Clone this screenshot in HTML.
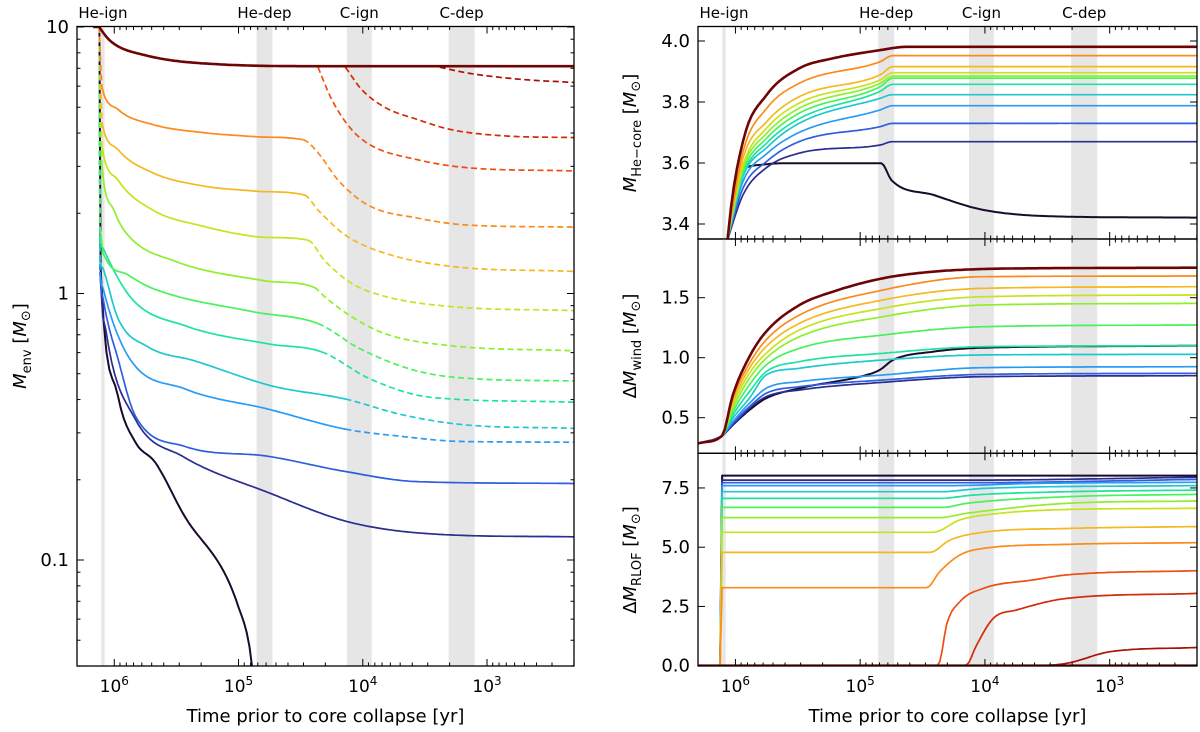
<!DOCTYPE html>
<html><head><meta charset="utf-8"><style>
html,body{margin:0;padding:0;background:#fff;}
svg{display:block;font-family:"DejaVu Sans","Liberation Sans",sans-serif;}
</style></head><body>
<svg id="fig" width="1200" height="732" viewBox="0 0 1200 732" xmlns="http://www.w3.org/2000/svg"></svg>
<script>
// ---------- data (log10 time before collapse in yr, values) ----------
const lineColors = ["#1a0a2e","#2b2d8f","#2f5fe0","#2a9bf5","#1ec8d0","#1de3a0","#48f25a","#8ef02a","#c8e21f","#f5b820","#fb8a1a","#f04e10","#d52a08","#aa1004","#6e0505"];
const phaseNames = ["He-ign","He-dep","C-ign","C-dep"];
const phaseStart = [6.105,4.855,4.128,3.309];
const phaseEnd   = [6.078,4.727,3.928,3.100];
const xTickExps = [6,5,4,3];

// Left panel: log10 M_env
const envT = [
 [6.12,6.11,5.97,5.83,5.67,5.45,5.0,4.89,4.875],
 [6.12,6.115,6.07,5.83,5.45,4.76,4.09,3.29,2.3],
 [6.12,6.115,6.09,5.97,5.83,5.43,4.76,4.14,3.56,2.3],
 [6.12,6.115,6.09,5.89,5.43,4.76,4.14,3.69,3.22,2.3],
 [6.12,6.115,6.09,5.97,5.73,5.35,4.73,4.14,3.70,3.22,2.3],
 [6.12,6.115,6.09,5.86,5.43,4.76,4.33,3.94,3.46,2.3],
 [6.12,6.115,6.07,5.89,5.69,4.89,4.36,4.02,3.56,3.06,2.3],
 [6.12,6.10,6.0,5.89,5.51,4.81,4.39,4.31,4.09,3.82,3.29,2.3],
 [6.12,6.10,5.97,5.69,5.29,4.89,4.44,4.31,4.09,3.82,3.29,2.3],
 [6.12,6.10,5.97,5.69,5.29,4.89,4.47,4.36,4.14,3.82,3.29,2.3],
 [6.12,6.10,5.97,5.69,5.29,4.89,4.48,4.36,4.20,3.96,3.56,3.16,2.3],
 [4.36,4.25,4.09,3.93,3.56,3.16,2.3],
 [4.14,4.01,3.82,3.56,3.29,2.88,2.3],
 [3.38,3.14,2.74,2.3],
 [6.17,6.12,6.11,6.02,5.75,5.16,4.36,2.3]
];
const envLogM = [
 [1.0,0.094,-0.385,-0.558,-0.634,-0.823,-1.177,-1.404,-1.5],
 [1.0,0.08,-0.132,-0.472,-0.611,-0.747,-0.860,-0.906,-0.913],
 [1.0,0.08,-0.019,-0.245,-0.460,-0.574,-0.611,-0.668,-0.706,-0.713],
 [1.0,0.08,0.019,-0.234,-0.358,-0.434,-0.509,-0.536,-0.555,-0.558],
 [1.0,0.12,0.094,-0.094,-0.2,-0.253,-0.347,-0.396,-0.453,-0.491,-0.506],
 [1.0,0.2,0.17,-0.019,-0.121,-0.189,-0.219,-0.321,-0.389,-0.408],
 [1.0,0.25,0.132,0.07,0.019,-0.068,-0.113,-0.208,-0.291,-0.321,-0.328],
 [1.0,0.479,0.31,0.219,0.121,0.049,0.023,-0.011,-0.087,-0.151,-0.196,-0.215],
 [1.0,0.555,0.426,0.313,0.253,0.215,0.2,0.125,0.038,-0.011,-0.049,-0.064],
 [1.0,0.642,0.540,0.453,0.404,0.385,0.370,0.313,0.219,0.151,0.102,0.083],
 [1.0,0.774,0.691,0.634,0.604,0.589,0.577,0.528,0.426,0.332,0.283,0.257,0.249],
 [0.849,0.728,0.615,0.555,0.502,0.472,0.460],
 [0.849,0.766,0.698,0.653,0.615,0.592,0.585],
 [0.849,0.826,0.804,0.792],
 [1.0,1.0,0.992,0.943,0.894,0.860,0.853,0.853]
];
// solid segment index ranges [from,to]; other segments dashed
const envSolid = [[0,8],[1,8],[1,9],[1,6],[1,7],[1,6],[1,6],[1,6],[1,6],[1,6],[1,6],[0,0],[0,0],[0,0],[0,7]];

// He core mass
const coreTcol = [6.07,5.94,5.75,5.49,4.84,4.74,2.3];
const coreT = [
 [6.075,6.06,5.97,5.75,5.59,4.83,4.75,4.41,4.01,3.34,2.3],
 coreTcol,coreTcol,coreTcol,coreTcol,coreTcol,coreTcol,coreTcol,coreTcol,coreTcol,coreTcol,
 [6.07,6.06,5.94,5.75,5.49,5.22,4.84,4.63,2.3],
 [6.07,6.06,5.94,5.75,5.49,5.22,4.84,4.63,2.3],
 [6.07,6.06,5.94,5.75,5.49,5.22,4.84,4.63,2.3],
 [6.07,6.06,5.94,5.75,5.49,5.22,4.84,4.63,2.3]
];
const coreM = [
 [3.30,3.364,3.571,3.596,3.599,3.599,3.544,3.495,3.446,3.424,3.421],
 [3.34,3.495,3.585,3.632,3.659,3.670,3.670],
 [3.34,3.517,3.605,3.670,3.719,3.730,3.730],
 [3.34,3.539,3.630,3.700,3.774,3.788,3.788],
 [3.34,3.555,3.650,3.730,3.812,3.824,3.824],
 [3.34,3.561,3.665,3.745,3.835,3.858,3.858],
 [3.34,3.571,3.681,3.763,3.850,3.878,3.878],
 [3.34,3.583,3.697,3.779,3.861,3.885,3.885],
 [3.34,3.593,3.714,3.796,3.872,3.896,3.896],
 [3.34,3.615,3.735,3.817,3.889,3.916,3.916],
 [3.34,3.637,3.779,3.861,3.932,3.952,3.952],
 [3.30,3.36,3.670,3.823,3.910,3.943,3.970,3.981,3.981],
 [3.30,3.36,3.670,3.823,3.910,3.943,3.970,3.981,3.981],
 [3.30,3.36,3.670,3.823,3.910,3.943,3.970,3.981,3.981],
 [3.30,3.36,3.670,3.823,3.910,3.943,3.970,3.981,3.981]
];

// wind mass loss
const windTcol = [6.3,6.107,6.021,5.888,5.754,5.486,4.817,4.014,2.3];
const windTred = [6.3,6.107,6.021,5.888,5.754,5.486,5.219,4.817,4.416,4.014,3.612,2.3];
const windT = [
 [6.3,6.107,6.021,5.888,5.754,5.486,4.95,4.843,4.737,4.416,4.014,2.3],
 windTcol,windTcol,windTcol,windTcol,windTcol,windTcol,windTcol,windTcol,windTcol,windTcol,
 windTred,windTred,windTred,windTred
];
const windRed = [0.285,0.35,0.689,1.008,1.217,1.439,1.55,1.662,1.717,1.739,1.745,1.75];
const windM = [
 [0.285,0.35,0.439,0.564,0.662,0.745,0.856,0.898,0.981,1.05,1.083,1.1],
 [0.285,0.35,0.439,0.578,0.675,0.731,0.795,0.842,0.85],
 [0.285,0.35,0.453,0.592,0.703,0.758,0.814,0.861,0.87],
 [0.285,0.35,0.467,0.62,0.745,0.8,0.856,0.917,0.925],
 [0.285,0.35,0.495,0.662,0.856,0.912,0.981,1.023,1.028],
 [0.285,0.35,0.522,0.717,0.883,0.967,1.037,1.092,1.1],
 [0.285,0.35,0.55,0.773,0.939,1.078,1.189,1.258,1.273],
 [0.285,0.35,0.578,0.828,0.995,1.175,1.342,1.439,1.453],
 [0.285,0.35,0.606,0.870,1.037,1.231,1.412,1.508,1.523],
 [0.285,0.35,0.633,0.912,1.092,1.287,1.481,1.578,1.592],
 [0.285,0.35,0.662,0.953,1.148,1.356,1.564,1.675,1.681],
 windRed,windRed,windRed,windRed
];

// RLOF mass transfer
const rlofT = [
 [6.123,6.107,2.3],
 [6.123,6.107,4.148,2.3],
 [6.123,6.107,4.148,2.3],
 [6.123,6.107,4.281,3.612,2.3],
 [6.123,6.107,4.362,4.014,2.3],
 [6.123,6.107,4.362,4.094,3.345,2.3],
 [6.123,6.107,4.335,4.148,3.345,2.3],
 [6.123,6.107,4.362,4.148,3.345,2.3],
 [6.123,6.107,4.415,4.201,3.88,3.345,2.3],
 [6.123,6.107,4.442,4.281,4.014,3.345,2.3],
 [6.123,6.107,4.468,4.362,4.201,4.014,3.345,2.3],
 [6.3,4.402,4.362,4.308,4.201,4.014,3.612,3.345,2.3],
 [6.3,4.201,4.148,4.067,3.933,3.746,3.345,2.3],
 [6.3,3.612,3.345,2.997,2.3],
 [6.3,2.3]
];
const rlofM = [
 [0,8.02,8.02],
 [0,7.83,7.83,7.95],
 [0,7.72,7.72,7.86],
 [0,7.60,7.60,7.69,7.74],
 [0,7.34,7.34,7.48,7.60],
 [0,7.06,7.06,7.20,7.34,7.41],
 [0,6.68,6.68,6.85,7.13,7.23],
 [0,6.25,6.25,6.43,6.85,6.95],
 [0,5.63,5.63,6.15,6.43,6.59,6.64],
 [0,4.78,4.78,5.30,5.63,5.79,5.87],
 [0,3.29,3.29,3.97,4.67,4.95,5.12,5.19],
 [0,0,0.17,1.72,2.70,3.26,3.62,3.83,4.01],
 [0,0,0.03,0.87,2.0,2.35,2.84,3.05],
 [0,0,0.1,0.59,0.77],
 [0,0]
];

const coreTicks = [3.4,3.6,3.8,4.0];
const windTicks = [0.5,1.0,1.5];
const rlofTicks = [0.0,2.5,5.0,7.5];
const envTickVals = [10,1,0.1];
const envTickLabels = ["10","1","0.1"];

// ---------- drawing ----------
const NS="http://www.w3.org/2000/svg";
const svg=document.getElementById('fig');
function el(tag,attrs,parent){const e=document.createElementNS(NS,tag);for(const k in attrs)e.setAttribute(k,attrs[k]);(parent||svg).appendChild(e);return e;}

const T0=6.3, T1=2.3;
const panels = {
 env:{x0:77,x1:574,y0:26.5,y1:666},
 core:{x0:698,x1:1197,y0:26.5,y1:239},
 wind:{x0:698,x1:1197,y0:239,y1:453.3},
 rlof:{x0:698,x1:1197,y0:453.3,y1:666}
};
function xScale(p,t){return p.x0+(T0-t)/(T0-T1)*(p.x1-p.x0);}
const yEnv=v=>293.5-266.5*v;
const yCore=v=>41+(4.0-v)*305;
const yWind=v=>357.7-(v-1.0)*120;
const yRlof=v=>665.7-v*23.7;

const defs=el('defs',{});
for(const k in panels){const cp=document.createElementNS(NS,'clipPath');cp.setAttribute('id','c-'+k);const r=document.createElementNS(NS,'rect');const p=panels[k];r.setAttribute('x',p.x0);r.setAttribute('y',p.y0);r.setAttribute('width',p.x1-p.x0);r.setAttribute('height',p.y1-p.y0);cp.appendChild(r);defs.appendChild(cp);}

function bands(p,g){
  for(let i=0;i<phaseStart.length;i++){
    const xa=xScale(p,phaseStart[i]), xb=xScale(p,phaseEnd[i]);
    const r=el('rect',{x:Math.min(xa,xb),y:p.y0,width:Math.abs(xb-xa),height:p.y1-p.y0,fill:'#e6e6e6'},g);
    
    
  }
}
function xTicks(p,g,labels){
  for(let e=2;e<=6;e++){
    for(let m=1;m<=9;m++){
      const t=e+Math.log10(m);
      if(t>T0||t<T1)continue;
      const x=xScale(p,t), len=m===1?7:3.5;
      el('line',{x1:x,x2:x,y1:p.y1,y2:p.y1-len,stroke:'#000','stroke-width':1},g);
      el('line',{x1:x,x2:x,y1:p.y0,y2:p.y0+len,stroke:'#000','stroke-width':1},g);
    }
  }
  if(labels){
    xTickExps.forEach(e=>{
      const x=xScale(p,e);
      const tx=el('text',{x:x,y:692,'font-size':17,'text-anchor':'middle',fill:'#000'},g);
      
      
      tx.appendChild(document.createTextNode('10'));
      const s=document.createElementNS(NS,'tspan');s.setAttribute('dy','-7');s.setAttribute('font-size','12');s.textContent=String(e);tx.appendChild(s);
    });
    const xt=el('text',{x:(p.x0+p.x1)/2,y:722,'font-size':18,'text-anchor':'middle'},g);
    
    
    xt.textContent='Time prior to core collapse [yr]';
  }
}
function yTicksLin(p,g,vals,ys,fmt){
  vals.forEach(v=>{
    const y=ys(v);
    el('line',{x1:p.x0,x2:p.x0+7,y1:y,y2:y,stroke:'#000'},g);
    el('line',{x1:p.x1,x2:p.x1-7,y1:y,y2:y,stroke:'#000'},g);
    const t=el('text',{x:p.x0-8,y:y+6,'font-size':18,'text-anchor':'end'},g);
    
    
    t.textContent=fmt(v);
  });
}
// monotone cubic (Fritsch-Carlson) tangents in pixel space
function tangents(P){
  const n=P.length, d=[], m=new Array(n);
  for(let i=0;i<n-1;i++){const dx=P[i+1][0]-P[i][0];d.push(dx>1e-6?(P[i+1][1]-P[i][1])/dx:0);}
  m[0]=d[0]||0; m[n-1]=d[n-2]||0;
  for(let i=1;i<n-1;i++){ if(d[i-1]*d[i]<=0)m[i]=0; else { m[i]=(d[i-1]+d[i])/2; const a=m[i]/d[i-1], b=m[i]/d[i]; const s=a*a+b*b; if(s>9){const tau=3/Math.sqrt(s); m[i]=tau*a*d[i-1];} } }
  return m;
}
function segPoints(P,m,j){
  const a=P[j], b=P[j+1], h=b[0]-a[0], out=[];
  if(h<2){return [a,b];}
  const N=Math.max(2,Math.ceil(h/3));
  for(let k=0;k<=N;k++){
    const s=k/N, s2=s*s, s3=s2*s;
    const y=(2*s3-3*s2+1)*a[1]+(s3-2*s2+s)*h*m[j]+(-2*s3+3*s2)*b[1]+(s3-s2)*h*m[j+1];
    out.push([a[0]+s*h,y]);
  }
  return out;
}
function drawLines(p,g,Ts,Vs,ys,solid,key){
  const cg=el('g',{'clip-path':'url(#c-'+key+')'},g);
  for(let i=0;i<Ts.length;i++){
    const T=Ts[i],V=Vs[i];
    const P=T.map((t,j)=>[xScale(p,t),ys(V[j])]);
    const m=tangents(P);
    const sw = (i===14)?2.6:(i===0?2:1.7);
    const sr = solid?solid[i]:[0,T.length-1];
    let seg=[], curDash=null;
    const flush=()=>{
      if(seg.length<2)return;
      const d='M'+seg.map(q=>q[0].toFixed(1)+','+q[1].toFixed(1)).join('L');
      const path=el('path',{d:d,fill:'none',stroke:lineColors[i],'stroke-width':sw,'stroke-linejoin':'round','stroke-dasharray':curDash?'6,3.5':'none'},cg);
      
      
    };
    for(let j=0;j<T.length-1;j++){
      const isDash=!(j>=sr[0]&&j<sr[1]);
      const pts=segPoints(P,m,j);
      if(curDash===null||isDash!==curDash){flush();seg=[pts[0]];curDash=isDash;}
      for(let k=1;k<pts.length;k++)seg.push(pts[k]);
    }
    flush();
  }
}
function frame(p,g){el('rect',{x:p.x0,y:p.y0,width:p.x1-p.x0,height:p.y1-p.y0,fill:'none',stroke:'#000','stroke-width':1.3},g);}
function phaseLabels(p,g){
  phaseNames.forEach((n,i)=>{
    const x=xScale(p,(phaseStart[i]+phaseEnd[i])/2);
    const t=el('text',{x:x,y:18,'font-size':15,'text-anchor':'middle'},g);
    
    
    t.textContent=n;
  });
}
function yTitle(x,y,g,main,sub,name){
  const t=el('text',{x:0,y:0,'font-size':18,'text-anchor':'middle',transform:'translate('+x+','+y+') rotate(-90)'},g);
  
  
  const a=document.createElementNS(NS,'tspan');a.textContent=main;t.appendChild(a);
  const mm=document.createElementNS(NS,'tspan');mm.setAttribute('font-style','italic');mm.textContent='M';t.appendChild(mm);
  const s=document.createElementNS(NS,'tspan');s.setAttribute('font-size','13');s.setAttribute('dy','5');s.textContent=sub;t.appendChild(s);
  const r=document.createElementNS(NS,'tspan');r.setAttribute('dy','-5');r.textContent=' [';t.appendChild(r);
  const m2=document.createElementNS(NS,'tspan');m2.setAttribute('font-style','italic');m2.textContent='M';t.appendChild(m2);
  const s2=document.createElementNS(NS,'tspan');s2.setAttribute('font-size','13');s2.setAttribute('dy','4');s2.textContent='\u2299';t.appendChild(s2);
  const r2=document.createElementNS(NS,'tspan');r2.setAttribute('dy','-4');r2.textContent=']';t.appendChild(r2);
}

// Left panel
(function(){
  const p=panels.env;
  const g=el('g',{});
  bands(p,g);
  drawLines(p,g,envT,envLogM,yEnv,envSolid,'env');
  xTicks(p,g,true);
  for(let e=-2;e<=1;e++){
    for(let m=1;m<=9;m++){
      const v=e+Math.log10(m); const y=yEnv(v);
      if(y<p.y0-0.5||y>p.y1+0.5)continue;
      const len=m===1?7:3.5;
      el('line',{x1:p.x0,x2:p.x0+len,y1:y,y2:y,stroke:'#000'},g);
      el('line',{x1:p.x1,x2:p.x1-len,y1:y,y2:y,stroke:'#000'},g);
    }
  }
  envTickVals.forEach((v,i)=>{
    const t=el('text',{x:p.x0-8,y:yEnv(Math.log10(v))+6,'font-size':18,'text-anchor':'end'},g);
    
    
    t.textContent=envTickLabels[i];
  });
  frame(p,g);
  phaseLabels(p,g);
  yTitle(26,346,g,'','env','y-axis-title-menv');
})();

// Right panels
(function(){
  const specs=[
    ['core',coreT,coreM,yCore,coreTicks,v=>v.toFixed(1),'He\u2212core',133,'he-core-mass-panel'],
    ['wind',windT,windM,yWind,windTicks,v=>v.toFixed(1),'wind',346,'wind-mass-loss-panel'],
    ['rlof',rlofT,rlofM,yRlof,rlofTicks,v=>v.toFixed(1),'RLOF',560,'rlof-mass-transfer-panel']
  ];
  specs.forEach(s=>{
    const p=panels[s[0]];
    const g=el('g',{});
    bands(p,g);
    drawLines(p,g,s[1],s[2],s[3],null,s[0]);
    xTicks(p,g,s[0]==='rlof');
    yTicksLin(p,g,s[4],s[3],s[5]);
    frame(p,g);
    if(s[0]==='core')phaseLabels(p,g);
    yTitle(636,s[7],g,s[0]==='core'?'':'\u0394',s[6],'y-axis-title-'+s[0]);
  });
})();
</script>
</body></html>
